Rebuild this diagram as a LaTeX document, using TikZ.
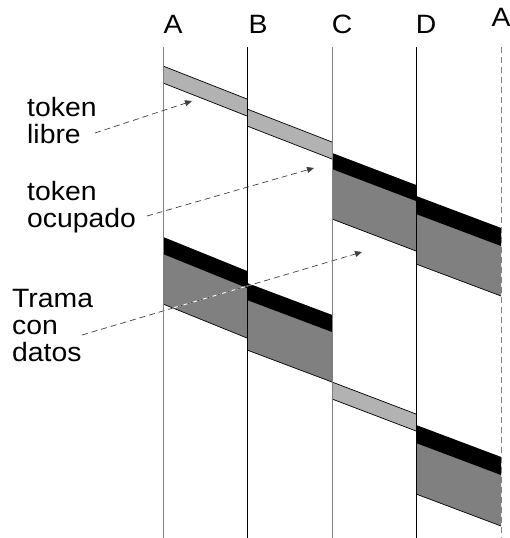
\documentclass[tikz,border=0pt]{standalone}
\usepackage{fontspec}
\setmainfont{Liberation Sans}[FakeStretch=1.07]
\usetikzlibrary{arrows.meta}

\definecolor{tokgray}{gray}{0.70}
\definecolor{datagray}{gray}{0.50}
\definecolor{stagray}{gray}{0.50}
\definecolor{leadgray}{gray}{0.25}

% free token travelling from x1 to x2: top edge y1 -> y2, height h
\newcommand{\tokband}[5]{%
  \fill[tokgray] (#1,#3) -- (#2,#4) -- (#2,{#4+#5}) -- (#1,{#3+#5}) -- cycle;
  \draw[edge] (#1,#3) -- (#2,#4);
  \draw[edge] (#1,{#3+#5}) -- (#2,{#4+#5});
}
% busy token (black, height b) followed by data (total height H)
\newcommand{\databand}[6]{%
  \fill[datagray] (#1,#3) -- (#2,#4) -- (#2,{#4+#6}) -- (#1,{#3+#6}) -- cycle;
  \fill[black] (#1,#3) -- (#2,#4) -- (#2,{#4+#5}) -- (#1,{#3+#5}) -- cycle;
  \draw[edge] (#1,{#3+#6}) -- (#2,{#4+#6});
}

\begin{document}
\begin{tikzpicture}[x=1pt,y=-1pt,
  lbl/.style={font=\fontsize{26.5}{27}\selectfont, inner sep=0pt, align=left, anchor=base west},
  stalbl/.style={font=\fontsize{26.5}{27}\selectfont, inner sep=0pt, anchor=base},
  station/.style={line width=0.9pt},
  edge/.style={line width=0.7pt},
  leader/.style={draw=leadgray, line width=0.7pt, dash pattern=on 6pt off 4pt,
                 -{Triangle[length=7pt,width=6pt]}},
  underlay/.style={draw=white, line width=0.9pt}
]
\useasboundingbox (0,0) rectangle (509,538);

% station names
\node[stalbl] (lA)  at (173,33) {A};
\node[stalbl] (lB)  at (258,33) {B};
\node[stalbl] (lC)  at (342,33) {C};
\node[stalbl] (lD)  at (426,33) {D};
\node[stalbl] (lA2) at (501,27) {A};

% ring transmissions
\tokband{163}{247}{66}{99}{17}
\tokband{247}{332}{109}{142}{17}
\databand{332}{416}{153}{185}{16}{66}
\databand{416}{501}{196}{228}{18}{68}
\databand{163}{247}{237}{271}{17}{67}
\databand{247}{332}{283}{315}{17}{67}
\tokband{332}{416}{382}{414}{17}
\databand{416}{501}{425}{457}{18}{69}

% station time lines
\draw[station, stagray] (163,47) -- (163,538);
\draw[station, black]   (247,47) -- (247,538);
\draw[station, stagray] (332,47) -- (332,538);
\draw[station, black]   (416,47) -- (416,538);
\draw[station, stagray, dash pattern=on 6pt off 4pt] (501,47) -- (501,538);

% legend texts (base anchor sits on the last line)
\node[lbl] (libre)   at (27,143) {token\\libre};
\node[lbl] (ocupado) at (27,227) {token\\ocupado};
\node[lbl] (trama)   at (12,361) {Trama\\con\\datos};

% leader lines
\coordinate (libreS)   at (95,133);
\coordinate (libreE)   at (192,101);
\coordinate (ocupadoS) at (147,216);
\coordinate (ocupadoE) at (314,168);
\coordinate (tramaS)   at (82,335);
\coordinate (tramaE)   at (362,252);

\draw[underlay] (tramaS) -- (tramaE);
\draw[leader] (libreS) -- (libreE);
\draw[leader] (ocupadoS) -- (ocupadoE);
\draw[leader] (tramaS) -- (tramaE);
\end{tikzpicture}
\end{document}
